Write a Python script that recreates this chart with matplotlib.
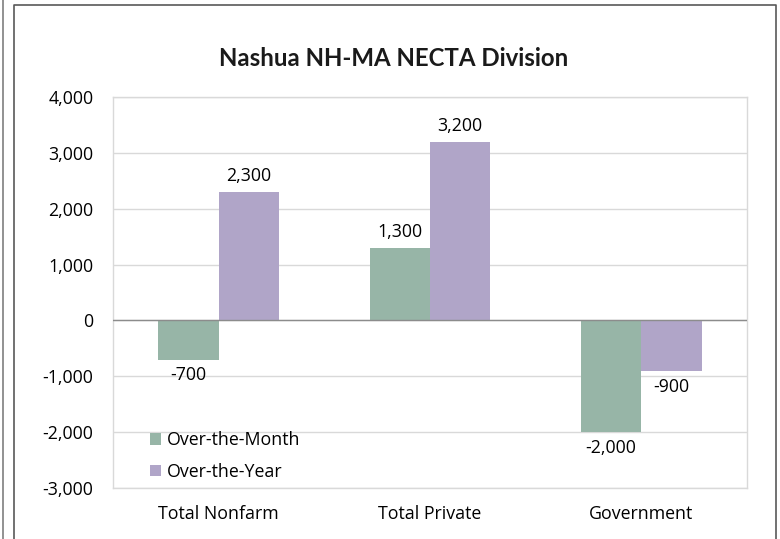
import matplotlib
matplotlib.use("Agg")
import matplotlib.pyplot as plt
from matplotlib.lines import Line2D
from matplotlib.ticker import FuncFormatter, MultipleLocator
import numpy as np

categories = ["Total Nonfarm", "Total Private", "Government"]
over_month = [-700, 1300, -2000]
over_year = [2300, 3200, -900]
series_names = ["Over-the-Month", "Over-the-Year"]

plt.rcParams["font.family"] = ["Open Sans", "DejaVu Sans"]
FS = 12.8

fig = plt.figure(figsize=(7.8, 5.39), dpi=100)
ax = fig.add_axes([113 / 780, 1 - 488 / 539, 634 / 780, 391 / 539])

x = np.arange(len(categories))
w = 0.286
b1 = ax.bar(x - w / 2, over_month, w, color="#97b5a7", label=series_names[0], zorder=3)
b2 = ax.bar(x + w / 2, over_year, w, color="#b0a5c8", label=series_names[1], zorder=3)

fmt = lambda v: f"{v:,.0f}"
ax.bar_label(b1, labels=[fmt(v) for v in over_month], padding=5, fontsize=FS)
ax.bar_label(b2, labels=[fmt(v) for v in over_year], padding=5, fontsize=FS)

ax.set_xlim(-0.5, 2.5)
ax.set_ylim(-3000, 4000)
ax.yaxis.set_major_locator(MultipleLocator(1000))
ax.yaxis.set_major_formatter(FuncFormatter(lambda v, p: f"{v:,.0f}"))
ax.grid(axis="y", color="#d9d9d9", linewidth=1, zorder=0)
ax.axhline(0, color="#8c8c8c", linewidth=1, zorder=4)
ax.set_xticks(x)
ax.set_xticklabels(categories)
ax.tick_params(length=0, labelsize=FS, colors="#000000")
ax.tick_params(axis="y", pad=14)
ax.tick_params(axis="x", pad=12)
for s in ax.spines.values():
    s.set_color("#d9d9d9")
    s.set_linewidth(1)

ax.legend(loc="lower left", bbox_to_anchor=(0.033, -0.022), frameon=False, fontsize=FS,
          handlelength=0.62, handleheight=0.62, handletextpad=0.35, labelspacing=0.75)

fig.text(394 / 780, 1 - 58 / 539, "Nashua NH-MA NECTA Division", ha="center", va="center",
         fontsize=17.3, fontweight="bold", color="#1a1a1a", family=["Lato", "DejaVu Sans"])

# outer frame lines
fig.add_artist(Line2D([3 / 780, 3 / 780], [0, 1], color="#7f7f7f", linewidth=1.2))
fig.add_artist(Line2D([14 / 780, 14 / 780, 776 / 780, 776 / 780],
                      [0, 1 - 5 / 539, 1 - 5 / 539, 0], color="#595959", linewidth=1.2))

fig.savefig("out.png", dpi=100)
